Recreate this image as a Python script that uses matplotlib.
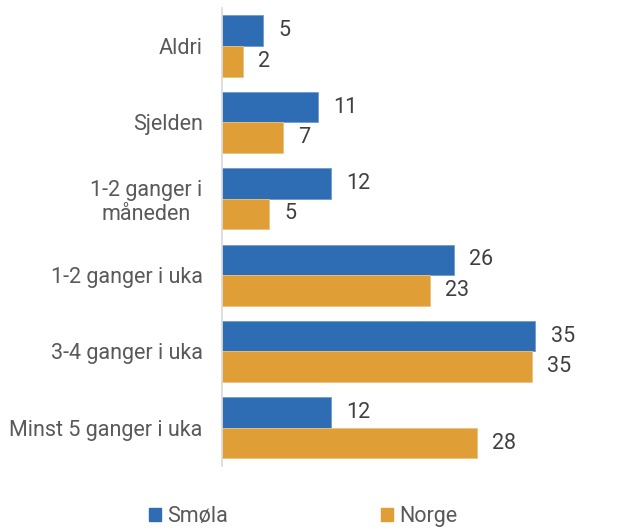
import matplotlib
matplotlib.use("Agg")
import matplotlib.pyplot as plt
import numpy as np
from matplotlib.patches import Patch

plt.rcParams['font.family'] = ['Roboto', 'DejaVu Sans']

categories = ["Aldri", "Sjelden", "1-2 ganger i\nmåneden", "1-2 ganger i uka",
              "3-4 ganger i uka", "Minst 5 ganger i uka"]
smola = [4.6, 10.7, 12.2, 25.9, 35.0, 12.2]
norge = [2.3, 6.8, 5.3, 23.2, 34.6, 28.5]
smola_labels = [5, 11, 12, 26, 35, 12]
norge_labels = [2, 7, 5, 23, 35, 28]

BLUE = "#2e6db4"
ORANGE = "#e09f36"
TXT = "#595959"
LBL = "#404040"
FS = 15.5

fig = plt.figure(figsize=(6.35, 5.31), dpi=100)
ax = fig.add_axes([0.3496, 0.1224, 0.5638, 0.8629])

y = np.arange(len(categories))
h = 0.4
ax.barh(y - h / 2, smola, height=h, color=BLUE, edgecolor="#6f9bd0", linewidth=0.6)
ax.barh(y + h / 2, norge, height=h, color=ORANGE, edgecolor="#ecc27f", linewidth=0.6)

for yi, v, lab in zip(y - h / 2, smola, smola_labels):
    ax.annotate(str(lab), (v, yi), xytext=(11, 0), textcoords="offset points",
                ha="left", va="center", fontsize=FS, color=LBL)
for yi, v, lab in zip(y + h / 2, norge, norge_labels):
    ax.annotate(str(lab), (v, yi), xytext=(11, 0), textcoords="offset points",
                ha="left", va="center", fontsize=FS, color=LBL)

ax.set_xlim(0, 40)
ax.set_ylim(len(categories) - 0.5, -0.5)
ax.set_yticks(y)
ax.set_yticklabels(categories, fontsize=FS, color=TXT, multialignment="center",
                   linespacing=1.2)
ax.set_xticks([])
ax.tick_params(axis="y", length=0, pad=14)
for s in ["top", "right", "bottom"]:
    ax.spines[s].set_visible(False)
ax.spines["left"].set_color("#d9d9d9")
ax.spines["left"].set_linewidth(1.2)

handles = [Patch(color=BLUE, label="Smøla"), Patch(color=ORANGE, label="Norge")]
fig.legend(handles=handles, loc="center", bbox_to_anchor=(0.478, 0.027), ncol=2,
           frameon=False, fontsize=FS, labelcolor=TXT, handlelength=0.55,
           handleheight=0.55, handletextpad=0.3, columnspacing=7.1)

fig.savefig("out.png", dpi=100)
